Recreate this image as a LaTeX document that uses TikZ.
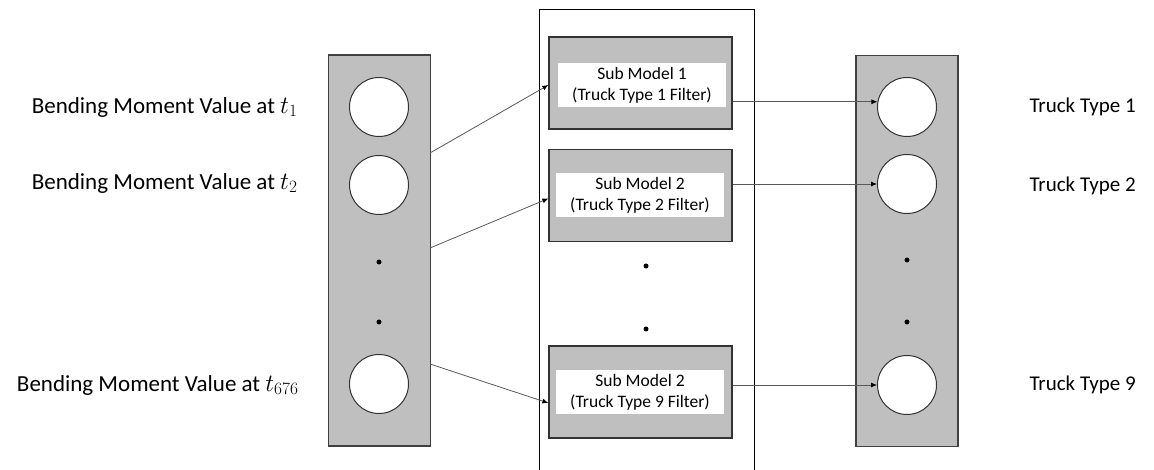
\documentclass[tikz,border=0pt]{standalone}
\usepackage{fontspec}
\setmainfont{Carlito}
\usetikzlibrary{arrows.meta,positioning,calc}

\tikzset{
  col/.style={draw=black!75,fill=black!25,line width=1.3pt,
              minimum width=102pt,minimum height=391pt,inner sep=0pt},
  neuron/.style={circle,draw=black!80,fill=white,line width=1pt,
                 minimum size=59pt,inner sep=0pt},
  subbox/.style={draw=black!80,fill=black!25,line width=1.2pt,
                 minimum width=183pt,minimum height=92pt,inner sep=0pt},
  filterbox/.style={fill=white,minimum width=168pt,minimum height=44pt,
                    inner sep=0pt,align=center,
                    font=\fontsize{17.5}{21}\selectfont},
  vdot/.style={circle,fill=black,minimum size=5pt,inner sep=0pt},
  inlabel/.style={anchor=east,font=\fontsize{23}{28}\selectfont},
  outlabel/.style={anchor=west,font=\fontsize{21}{25}\selectfont},
  arr/.style={draw=black!65,line width=0.8pt,
              -{Latex[length=6pt,width=5pt,color=black]}}
}

\begin{document}
\begin{tikzpicture}[x=1pt,y=-1pt]
\useasboundingbox (0,0) rectangle (1154,470);

% input layer
\node[col] (incol) at (379.5,250.5) {};
\node[neuron] (in1) at (379,107) {};
\node[neuron] (in2) at (379,185) {};
\node[vdot] (ind1) at (379,262) {};
\node[vdot] (ind2) at (379,322) {};
\node[neuron] (in3) at (379,384) {};

\node[inlabel] (lb1) at (301,107) {Bending Moment Value at $t_1$};
\node[inlabel] (lb2) at (301,183) {Bending Moment Value at $t_2$};
\node[inlabel] (lb3) at (302,385) {Bending Moment Value at $t_{676}$};

% sub models
\node[draw=black,line width=1pt,minimum width=215pt,minimum height=470pt,
      inner sep=0pt] (frame) at (646.5,245) {};

\node[subbox] (sub1) at (640.5,83) {};
\node[filterbox] (flt1) at (642,85) {Sub Model 1\\(Truck Type 1 Filter)};
\node[subbox] (sub2) at (640.5,195.5) {};
\node[filterbox] (flt2) at (640,195) {Sub Model 2\\(Truck Type 2 Filter)};
\node[vdot] (subd1) at (646,266) {};
\node[vdot] (subd2) at (646,329) {};
\node[subbox] (sub3) at (640.5,392) {};
\node[filterbox] (flt3) at (640,392) {Sub Model 2\\(Truck Type 9 Filter)};

% output layer
\node[col] (outcol) at (907,251) {};
\node[neuron] (out1) at (907,107) {};
\node[neuron] (out2) at (907,184) {};
\node[vdot] (outd1) at (907,260) {};
\node[vdot] (outd2) at (907,322) {};
\node[neuron] (out3) at (907,385) {};

\node[outlabel] (tt1) at (1026,107) {Truck Type 1};
\node[outlabel] (tt2) at (1026,186) {Truck Type 2};
\node[outlabel] (tt3) at (1026,385) {Truck Type 9};

% connectors
\coordinate (s1) at (430,153);
\coordinate (s2) at (430,248);
\coordinate (s3) at (430,364);
\draw[arr] (s1) -- ($(sub1.west)+(0,2)$);
\draw[arr] (s2) -- ($(sub2.west)+(0,3)$);
\draw[arr] (s3) -- ($(sub3.west)+(0,11)$);

\draw[arr] (sub1.east |- out1.170) -- (out1.170);
\draw[arr] (sub2.east |- out2.west) -- (out2.west);
\draw[arr] (sub3.east |- out3.west) -- (out3.west);
\end{tikzpicture}
\end{document}
